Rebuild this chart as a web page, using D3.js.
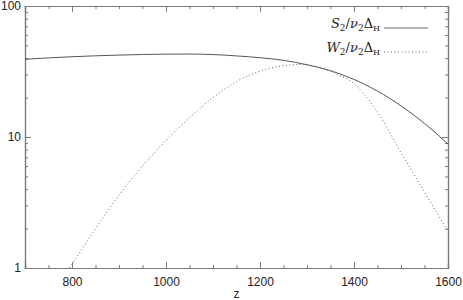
<!DOCTYPE html>
<html>
<head>
<meta charset="utf-8">
<script src="https://cdn.jsdelivr.net/npm/d3@7"></script>
<style>
  body { margin: 0; background: #fff; }
  svg { display: block; }
  .tick text { font-family: "Liberation Sans", Arial, sans-serif; font-size: 12px; fill: #222; }
  .domain, .tick line { stroke: #7a7a7a; }
</style>
</head>
<body>
<div id="chart"></div>
<script>
// values
const zS = [700, 800, 900, 1000, 1050, 1100, 1150, 1200, 1250, 1300, 1350, 1400, 1450, 1500, 1550, 1600]
const sValues = [39.2, 41.0, 42.2, 42.9, 43.0, 42.6, 41.6, 40.3, 38.5, 35.6, 32.1, 27.5, 22.4, 17.3, 12.7, 8.85]

const zW = [795, 850, 900, 950, 1000, 1050, 1100, 1150, 1200, 1250, 1290, 1330, 1360, 1400, 1450, 1500, 1550, 1600]
const wValues = [1.0, 2.0, 3.6, 6.0, 9.4, 14.0, 20.0, 26.5, 31.8, 35.0, 35.8, 33.6, 30.6, 25.5, 15.5, 7.6, 3.8, 1.9]

const xMajor = [800, 1000, 1200, 1400, 1600]
const xMinor = d3.range(700, 1601, 50)
const yMajor = [1, 10, 100]
const yMinor = [2, 3, 4, 5, 6, 7, 8, 9, 20, 30, 40, 50, 60, 70, 80, 90]

const margin = { top: 6, right: 15, bottom: 32, left: 25 }
const width = 463 - margin.left - margin.right
const height = 300 - margin.top - margin.bottom

const svg = d3.select("#chart").append("svg")
    .attr("width", 463)
    .attr("height", 300)
  .append("g")
    .attr("transform", "translate(" + margin.left + "," + margin.top + ")")

const x = d3.scaleLinear().domain([700, 1600]).range([0, width])
const y = d3.scaleLog().domain([1, 100]).range([height, 0])

// ticks point inward on all four sides, IDL style
function addAxis(gen, vals, size, tx, labels) {
  const g = svg.append("g")
    .attr("transform", tx)
    .call(gen.tickValues(vals).tickSize(size).tickPadding(labels ? 9 : 0)
      .tickFormat(labels ? d3.format("d") : ""))
  return g
}

addAxis(d3.axisBottom(x), xMinor, -3, "translate(0," + height + ")", false)
addAxis(d3.axisBottom(x), xMajor, -6, "translate(0," + height + ")", true)
addAxis(d3.axisTop(x), xMinor, -3, "translate(0,0)", false)
addAxis(d3.axisTop(x), xMajor, -6, "translate(0,0)", false)
addAxis(d3.axisLeft(y), yMinor, -3, "translate(0,0)", false)
addAxis(d3.axisLeft(y), yMajor, -6, "translate(0,0)", true)
  .selectAll("text").attr("dx", 5)
addAxis(d3.axisRight(y), yMinor, -3, "translate(" + width + ",0)", false)
addAxis(d3.axisRight(y), yMajor, -6, "translate(" + width + ",0)", false)

svg.selectAll(".domain").attr("stroke-width", 1.2)

svg.append("text")
  .attr("x", width / 2)
  .attr("y", height + 30)
  .attr("text-anchor", "middle")
  .style("font-family", "Liberation Sans, Arial, sans-serif")
  .style("font-size", "12px")
  .style("fill", "#222")
  .text("z")

const lineS = d3.line()
  .x((d, i) => x(zS[i]))
  .y(d => y(d))
  .curve(d3.curveMonotoneX)

const lineW = d3.line()
  .x((d, i) => x(zW[i]))
  .y(d => y(d))
  .curve(d3.curveMonotoneX)

svg.append("path")
  .datum(sValues)
  .attr("d", lineS)
  .attr("fill", "none")
  .attr("stroke", "#555")
  .attr("stroke-width", 1)

svg.append("path")
  .datum(wValues)
  .attr("d", lineW)
  .attr("fill", "none")
  .attr("stroke", "#666")
  .attr("stroke-width", 1)
  .attr("stroke-dasharray", "1,2.5")

// legend
const legend = [
  { name: "S", y: 22, dash: null },
  { name: "W", y: 46, dash: "1,2.5" }
]

legend.forEach(d => {
  const t = svg.append("text")
    .attr("x", 355)
    .attr("y", d.y)
    .attr("text-anchor", "end")
    .style("font-family", "DejaVu Serif, Liberation Serif, serif")
    .style("font-size", "13px")
    .style("fill", "#222")
  t.append("tspan").style("font-style", "italic").text(d.name)
  t.append("tspan").attr("dy", 3).style("font-size", "9px").text("2")
  t.append("tspan").attr("dy", -3).text("/")
  t.append("tspan").style("font-style", "italic").text("ν")
  t.append("tspan").attr("dy", 3).style("font-size", "9px").text("2")
  t.append("tspan").attr("dy", -3).text("Δ")
  t.append("tspan").attr("dy", 3).style("font-size", "8px").text("H")

  svg.append("line")
    .attr("x1", 359).attr("x2", 403)
    .attr("y1", d.y).attr("y2", d.y)
    .attr("stroke", "#666")
    .attr("stroke-dasharray", d.dash)
})
</script>
</body>
</html>
